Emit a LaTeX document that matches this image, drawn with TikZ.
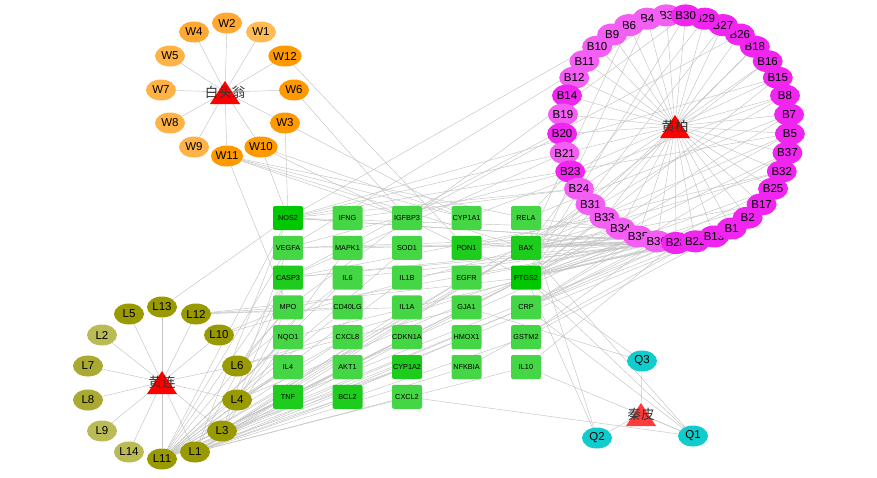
\documentclass[tikz,border=0pt]{standalone}
\usepackage{fontspec}
\setmainfont{Liberation Sans}
\newfontfamily\cjk{Noto Sans CJK SC}
\usetikzlibrary{shapes.geometric}
\pgfdeclarelayer{bg}
\pgfsetlayers{bg,main}
\definecolor{edgegrey}{HTML}{C4C4C4}
\definecolor{herbred}{HTML}{FF0000}
\definecolor{herbred2}{HTML}{FF3B3B}
\definecolor{herbtext}{HTML}{333333}
\definecolor{wA}{HTML}{FFBC55}
\definecolor{wB}{HTML}{FFB347}
\definecolor{wC}{HTML}{FFA933}
\definecolor{wD}{HTML}{FF9900}
\definecolor{lD}{HTML}{999900}
\definecolor{lM}{HTML}{AAAA33}
\definecolor{lL}{HTML}{BBBB55}
\definecolor{bv}{HTML}{F026F0}
\definecolor{bl}{HTML}{F35EF3}
\definecolor{qc}{HTML}{11CCCC}
\definecolor{gD}{HTML}{00C800}
\definecolor{gM}{HTML}{1ECC1E}
\definecolor{gL}{HTML}{44D644}
\newcommand{\herbtriangle}[3]{\fill[#3] ({#1-15},{#2+11}) -- (#1,{#2-12}) -- ({#1+15},{#2+11}) -- cycle;}
\begin{document}
\begin{tikzpicture}[x=1pt,y=-1pt,
  ingnode/.style={ellipse, minimum width=30pt, minimum height=21pt, inner sep=0pt, font=\fontsize{11.5}{12}\selectfont},
  bnode/.style={ellipse, minimum width=30pt, minimum height=22pt, inner sep=0pt, font=\fontsize{11.5}{12}\selectfont},
  tgt/.style={rectangle, rounded corners=2pt, minimum width=30pt, minimum height=24pt, inner sep=0pt, font=\fontsize{7.3}{8}\selectfont},
  edge/.style={draw=edgegrey, line width=0.45pt},
  herblabel/.style={font=\cjk\fontsize{13.5}{14}\selectfont, text=herbtext, inner sep=0pt}]
\useasboundingbox (0,0) rectangle (877,477);

% ---------- targets ----------
\foreach \n/\c [count=\i from 0] in {NOS2/gD,IFNG/gL,IGFBP3/gL,CYP1A1/gL,RELA/gL,
  VEGFA/gL,MAPK1/gL,SOD1/gL,PON1/gM,BAX/gM,
  CASP3/gM,IL6/gL,IL1B/gL,EGFR/gL,PTGS2/gD,
  MPO/gL,CD40LG/gL,IL1A/gL,GJA1/gL,CRP/gL,
  NQO1/gL,CXCL8/gL,CDKN1A/gL,HMOX1/gL,GSTM2/gL,
  IL4/gL,AKT1/gL,CYP1A2/gM,NFKBIA/gL,IL10/gL,
  TNF/gM,BCL2/gM,CXCL2/gL}{
  \pgfmathtruncatemacro{\col}{mod(\i,5)}
  \pgfmathtruncatemacro{\row}{int(\i/5)}
  \node[tgt, fill=\c] (t\n) at ({288+59.5*\col},{218+29.8*\row}) {\n};
}

% ---------- 白头翁 ----------
\herbtriangle{225}{93}{herbred}
\node[herblabel] (hW) at (225,92) {白头翁};
\foreach \n/\x/\y/\c in {W1/261/32/wA,W2/227/23/wC,W4/194/32/wC,W5/170/56/wB,W12/285/56/wD,
  W7/161/90/wB,W6/294/90/wD,W8/170/123/wB,W3/285/123/wD,W9/194/147/wB,W10/261/147/wD,W11/227/156/wD}{
  \node[ingnode, fill=\c] (\n) at (\x,\y) {\n};
}

% ---------- 黄连 ----------
\herbtriangle{162}{383}{herbred}
\node[herblabel] (hL) at (162,382) {黄连};
\foreach \n/\x/\y/\c in {L13/162/307/lD,L5/129/314/lD,L12/196/314/lD,L2/102/335/lL,L10/219/335/lD,
  L7/88/366/lM,L6/237/366/lD,L8/88/400/lM,L4/237/400/lD,L9/102/431/lL,L3/222/431/lD,
  L14/129/452/lL,L1/195/452/lD,L11/162/459/lD}{
  \node[ingnode, fill=\c] (\n) at (\x,\y) {\n};
}

% ---------- 秦皮 ----------
\herbtriangle{641}{415}{herbred2}
\node[herblabel] (hQ) at (641,414) {秦皮};
\foreach \n/\x/\y in {Q3/642/361,Q2/597/438,Q1/693/436}{
  \node[ingnode, fill=qc] (\n) at (\x,\y) {\n};
}

% ---------- 黄柏 ----------
\herbtriangle{675}{127}{herbred}
\node[herblabel] (hB) at (675,126) {黄柏};
\foreach \n/\c [count=\j from 0] in {3/bl,4/bl,6/bl,9/bl,10/bl,11/bl,12/bl,14/bv,19/bl,20/bv,21/bl,23/bv,24/bl,
  31/bl,33/bl,34/bl,35/bl,36/bl,28/bv,22/bv,13/bv,1/bv,2/bv,17/bv,25/bv,32/bv,37/bv,5/bv,7/bv,8/bv,
  15/bv,16/bv,18/bv,26/bv,27/bv,29/bv,30/bv}{
  \node[bnode, fill=\c] (B\n) at ({676+114*cos(85.14-9.73*(36-\j))},{129-114*sin(85.14-9.73*(36-\j))}) {B\n};
}

% ---------- edges ----------
\begin{pgfonlayer}{bg}
\fill[white] (0,0) rectangle (877,477);
\foreach \n in {1,...,12}{\draw[edge] (hW.center) -- (W\n);}
\foreach \n in {1,...,14}{\draw[edge] (hL.center) -- (L\n);}
\foreach \n in {1,...,37}{\draw[edge] (hB.center) -- (B\n);}
\foreach \n in {1,2,3}{\draw[edge] (hQ.center) -- (Q\n);}
\foreach \s/\tl in {
  W3/{NOS2,CYP1A1}, W6/{IGFBP3}, W12/{PON1}, W10/{NOS2,CYP1A1,PTGS2},
  W11/{MPO,IGFBP3,CYP1A1,RELA,BAX},
  B36/{NOS2,VEGFA,CASP3,MPO,BAX,PTGS2,CRP,PON1,EGFR,IL1B,GSTM2},
  B28/{NOS2,CASP3,BAX,PTGS2,CRP,IL10,IL6,TNF,NQO1,MAPK1},
  B35/{VEGFA,PTGS2,BAX,CRP,AKT1,SOD1}, B34/{NOS2,BAX,PTGS2,RELA},
  B22/{PTGS2,BAX,CRP,NFKBIA}, B13/{PTGS2,BAX,HMOX1}, B33/{PTGS2,CASP3},
  B31/{BAX,EGFR}, B24/{NOS2,IFNG}, B23/{VEGFA,RELA}, B21/{NOS2,CASP3}, B20/{IGFBP3},
  B5/{PTGS2,BAX,NOS2}, B37/{PTGS2,CRP}, B32/{BAX,PON1}, B25/{PTGS2,CRP}, B17/{BAX,PTGS2},
  B2/{PTGS2}, B1/{BAX,GSTM2}, B7/{PTGS2,RELA}, B8/{BAX,CYP1A1}, B15/{PTGS2,NOS2},
  B16/{BAX}, B18/{PTGS2}, B26/{CASP3}, B27/{PTGS2}, B29/{BAX}, B30/{PTGS2,MPO},
  B3/{VEGFA}, B4/{PTGS2}, B6/{BAX}, B9/{NOS2},
  L11/{NOS2,VEGFA,CASP3,MPO,NQO1,IL4,TNF,AKT1,BCL2,CXCL8,CYP1A2,PTGS2,BAX,CRP,IL6,IL1B,CDKN1A,HMOX1,EGFR,SOD1,CD40LG},
  L1/{NOS2,CASP3,TNF,BCL2,CXCL2,CYP1A2,PTGS2,BAX,IL10,GSTM2,AKT1,NFKBIA,HMOX1},
  L3/{VEGFA,MPO,NQO1,PTGS2,BAX,CYP1A2,IL1A,CRP,EGFR},
  L4/{CASP3,IL4,PTGS2,CXCL8,MAPK1}, L6/{MPO,IL6,PTGS2,GJA1}, L10/{MPO,BAX},
  L12/{MPO,CD40LG,IL1A,PTGS2}, L13/{NOS2},
  Q1/{PTGS2,BAX,CRP,IL10,CXCL2}, Q2/{RELA,PTGS2}, Q3/{PTGS2,GJA1}}{
  \foreach \t in \tl {\draw[edge] (\s) -- (t\t);}
}
\end{pgfonlayer}
\end{tikzpicture}
\end{document}
